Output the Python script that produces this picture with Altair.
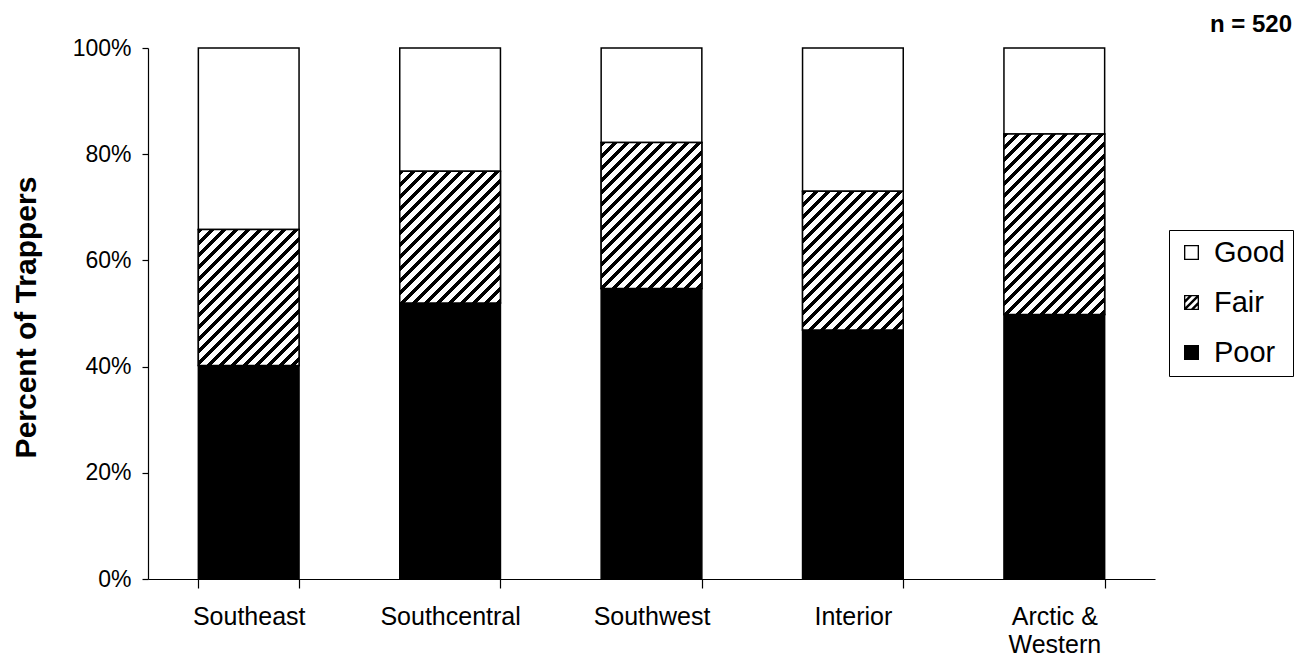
import altair as alt
import pandas as pd

# ---------------- data ----------------
regions = ["Southeast", "Southcentral", "Southwest", "Interior", "Arctic & Western"]
categories = ["Good", "Fair", "Poor"]
poor = [40.2, 52.0, 54.7, 46.9, 49.8]
fair = [25.6, 24.8, 27.5, 26.1, 34.0]
good = [34.2, 23.2, 17.8, 27.0, 16.2]
y_ticks = [0, 0.2, 0.4, 0.6, 0.8, 1.0]
y_title = "Percent of Trappers"
n_label = "n = 520"

rows = []
for i, r in enumerate(regions):
    for cat, vals, order in (("Poor", poor, 0), ("Fair", fair, 1), ("Good", good, 2)):
        rows.append({"region": r, "cat": cat, "value": vals[i] / 100.0, "order": order})
df = pd.DataFrame(rows)

# ---------------- layout / style ----------------
FONT = "Liberation Sans"
PW, PH = 1007, 531
PAD = {"left": 140, "top": 40, "right": 141, "bottom": 78}
P_IN, P_OUT = 0.5, 0.25
BW = PW / (len(regions) - P_IN + 2 * P_OUT) * (1 - P_IN)  # band width in px


def hatch_gradient(w, h, period=12.0, frac=0.38):
    """45-degree black/white stripes as a linear gradient in bbox units."""
    L = w + h
    a = L * w / (w * w + h * h)
    b = L * h / (w * w + h * h)
    stops = []
    k = 0
    while k * period / L < 1:
        s = k * period / L
        e = min((k + frac) * period / L, 1.0)
        n = min((k + 1) * period / L, 1.0)
        stops += [
            alt.GradientStop(offset=s, color="black"),
            alt.GradientStop(offset=e, color="black"),
            alt.GradientStop(offset=e, color="white"),
            alt.GradientStop(offset=n, color="white"),
        ]
        k += 1
    return alt.LinearGradient(gradient="linear", stops=stops, x1=0, y1=0, x2=a, y2=b)


# ---- legend symbol shapes (unit square -1..1), filled black ----
def _clip(poly, a, b, c):
    out = []
    n = len(poly)
    for i in range(n):
        P, Q = poly[i], poly[(i + 1) % n]
        vp, vq = a * P[0] + b * P[1], a * Q[0] + b * Q[1]
        pin, qin = vp <= c + 1e-9, vq <= c + 1e-9
        if pin:
            out.append(P)
        if pin != qin:
            t = (c - vp) / (vq - vp)
            out.append((P[0] + t * (Q[0] - P[0]), P[1] + t * (Q[1] - P[1])))
    return out


def _poly_path(poly):
    return "M" + "L".join(f"{x:.3f},{y:.3f}" for x, y in poly) + "Z"


T = 0.18  # outline thickness (unit coords)
RING = "M-1,-1H1V1H-1Z" + f"M{-1 + T:.2f},{-1 + T:.2f}V{1 - T:.2f}H{1 - T:.2f}V{-1 + T:.2f}Z"
square = [(-1, -1), (1, -1), (1, 1), (-1, 1)]
stripes = ""
for c in (-1.0, 0.0, 1.0):
    w = 0.22
    p = _clip(square, 1, 1, c + w)
    p = _clip(p, -1, -1, -(c - w))
    stripes += _poly_path(p)
HATCH = RING + stripes

x_enc = alt.X(
    "region:N",
    sort=regions,
    title=None,
    scale=alt.Scale(paddingInner=P_IN, paddingOuter=P_OUT),
    axis=alt.Axis(
        labelAngle=0,
        labelFont=FONT,
        labelFontSize=25,
        labelColor="black",
        labelPadding=16,
        labelLineHeight=28,
        labelBaseline="top",
        labelExpr="datum.label == 'Arctic & Western' ? ['Arctic &', 'Western'] : datum.label",
        domainColor="black",
        domainWidth=1.2,
        tickColor="black",
        tickWidth=1.2,
        tickSize=9,
        tickBand="extent",
        grid=False,
    ),
)

y_axis = alt.Axis(
    values=y_ticks,
    format=".0%",
    labelFont=FONT,
    labelFontSize=23,
    labelColor="black",
    labelPadding=11,
    domainColor="black",
    domainWidth=1.2,
    tickColor="black",
    tickWidth=1.2,
    tickSize=6,
    grid=False,
    title=y_title,
    titleFont=FONT,
    titleFontSize=30,
    titleFontWeight="bold",
    titleColor="black",
    titleAngle=270,
    titleAlign="center",
    titleBaseline="middle",
    titleX=-122,
    titleY=269,
)
y_scale = alt.Scale(domain=[0, 1])

legend = alt.Legend(
    title=None,
    orient="none",
    legendX=1021,
    legendY=182,
    strokeColor="black",
    fillColor="white",
    padding=8,
    cornerRadius=0,
    labelFont=FONT,
    labelFontSize=29,
    labelColor="black",
    labelOffset=8,
    rowPadding=20,
    symbolSize=225,
    symbolStrokeWidth=0,
    symbolOpacity=1,
)

base = alt.Chart(df).transform_stack(
    stack="value",
    groupby=["region"],
    as_=["y0", "y1"],
    sort=[alt.SortField("order", order="ascending")],
)

# fill scale for the bars (domain order differs from the legend scales so the
# legend-less fill scale is not merged with the visible legend)
bars = base.mark_bar(stroke="black", strokeWidth=1.5).encode(
    x=x_enc,
    y=alt.Y("y0:Q", scale=y_scale, axis=y_axis),
    y2="y1:Q",
    fill=alt.Fill(
        "cat:N",
        scale=alt.Scale(domain=["Poor", "Fair", "Good"], range=["black", "white", "white"]),
        legend=None,
    ),
)

layers = [bars]
for i, r in enumerate(regions):
    h = fair[i] / 100.0 * PH
    layers.append(
        base.transform_filter((alt.datum.region == r) & (alt.datum.cat == "Fair"))
        .mark_bar(fill=hatch_gradient(BW, h), stroke="black", strokeWidth=1.5)
        .encode(x=x_enc, y=alt.Y("y0:Q", scale=y_scale, axis=y_axis), y2="y1:Q")
    )

legend_pts = base.mark_point(filled=True, opacity=0).encode(
    x=x_enc,
    y=alt.Y("y1:Q", scale=y_scale, axis=y_axis),
    color=alt.Color(
        "cat:N",
        scale=alt.Scale(domain=categories, range=["black", "black", "black"]),
        legend=legend,
    ),
    shape=alt.Shape(
        "cat:N",
        scale=alt.Scale(domain=categories, range=[RING, HATCH, "square"]),
        legend=legend,
    ),
)
layers.append(legend_pts)

chart = (
    alt.layer(*layers)
    .properties(
        width=PW,
        height=PH,
        padding=PAD,
        autosize=alt.AutoSizeParams(type="none"),
        background="white",
        title=alt.TitleParams(
            text=n_label,
            anchor="end",
            frame="group",
            font=FONT,
            fontSize=24,
            fontWeight="bold",
            color="black",
            dx=137,
            offset=0,
        ),
    )
    .configure_view(stroke=None)
)

chart.save("out.html", embed_options={"renderer": "svg", "actions": False})
